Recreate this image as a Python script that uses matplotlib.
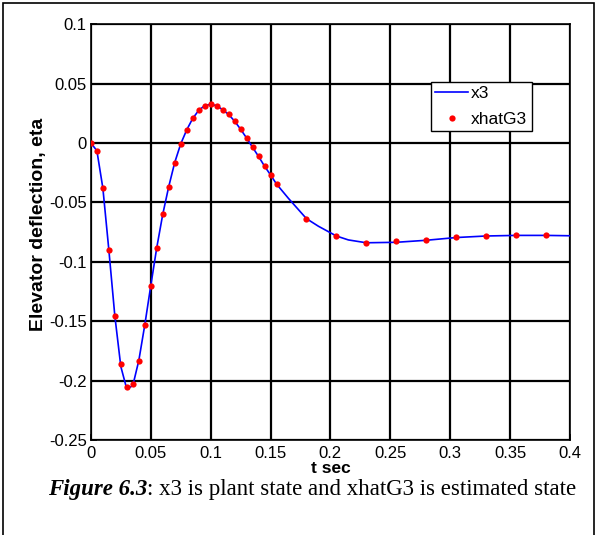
import numpy as np
import matplotlib.pyplot as plt
from matplotlib.patches import Rectangle

# estimated state samples (red dots)
t_est = [0.0, 0.005, 0.01, 0.015, 0.02, 0.025, 0.03, 0.035, 0.04, 0.045,
         0.05, 0.055, 0.06, 0.065, 0.07, 0.075, 0.08, 0.085, 0.09, 0.095,
         0.1, 0.105, 0.11, 0.115, 0.12, 0.125, 0.13, 0.135, 0.14, 0.145,
         0.15, 0.155, 0.18, 0.205, 0.23, 0.255, 0.28, 0.305, 0.33, 0.355, 0.38]
x_est = [0.0, -0.0065, -0.038, -0.090, -0.1455, -0.186, -0.205, -0.203, -0.183, -0.153,
         -0.120, -0.088, -0.060, -0.0367, -0.0164, -0.0008, 0.011, 0.0206, 0.0274, 0.0314,
         0.0325, 0.0314, 0.028, 0.024, 0.0184, 0.0116, 0.0042, -0.0036, -0.0113, -0.0195,
         -0.0268, -0.0345, -0.0636, -0.0782, -0.0839, -0.0828, -0.0814, -0.0791, -0.0782, -0.0777, -0.0777]

# plant state (blue line)
t_x3 = [0.0, 0.005, 0.01, 0.015, 0.02, 0.025, 0.03, 0.035, 0.04, 0.045,
        0.05, 0.055, 0.06, 0.065, 0.07, 0.075, 0.08, 0.085, 0.09, 0.095,
        0.1, 0.105, 0.11, 0.115, 0.12, 0.125, 0.13, 0.135, 0.14, 0.145,
        0.15, 0.155, 0.165, 0.18, 0.19, 0.205, 0.215, 0.23, 0.255, 0.28,
        0.305, 0.33, 0.355, 0.38, 0.4]
x3 = [0.0, -0.0065, -0.038, -0.090, -0.1455, -0.188, -0.207, -0.204, -0.183, -0.153,
      -0.120, -0.088, -0.060, -0.0367, -0.0164, -0.0008, 0.011, 0.0206, 0.0274, 0.0314,
      0.0325, 0.0314, 0.028, 0.024, 0.0184, 0.0116, 0.0042, -0.0036, -0.0113, -0.0195,
      -0.0268, -0.0345, -0.0466, -0.0636, -0.0700, -0.0782, -0.0815, -0.0839, -0.0835, -0.0818,
      -0.0795, -0.0782, -0.0777, -0.0777, -0.0780]

xtick_labels = ['0', '0.05', '0.1', '0.15', '0.2', '0.25', '0.3', '0.35', '0.4']
ytick_labels = ['-0.25', '-0.2', '-0.15', '-0.1', '-0.05', '0', '0.05', '0.1']

plt.rcParams['font.family'] = ['Liberation Sans', 'DejaVu Sans']

fig = plt.figure(figsize=(5.98, 5.35), dpi=100)
ax = fig.add_axes([0.152, 0.177, 0.801, 0.778])

ax.plot(t_x3, x3, color='blue', linewidth=1.2, label='x3', zorder=3)
ax.plot(t_est, x_est, 'o', color='red', markersize=4.5, markeredgewidth=0,
        label='xhatG3', zorder=4)

ax.set_xlim(0, 0.4)
ax.set_ylim(-0.25, 0.1)
ax.set_xticks(np.linspace(0, 0.4, 9))
ax.set_yticks(np.linspace(-0.25, 0.1, 8))
ax.set_xticklabels(xtick_labels)
ax.set_yticklabels(ytick_labels)
ax.tick_params(direction='in', labelsize=12, length=4, width=1.2, pad=3)
ax.tick_params(axis='x', pad=4)
ax.grid(True, color='black', linewidth=1.6, linestyle='-')
ax.set_axisbelow(True)
for s in ax.spines.values():
    s.set_linewidth(1.2)

ax.set_xlabel('t sec', fontsize=12.5, fontweight='bold', labelpad=0)
ax.set_ylabel('Elevator deflection, eta', fontsize=14, fontweight='bold')
ax.yaxis.set_label_coords(-0.092, 0.519)

leg = ax.legend(loc='upper left', bbox_to_anchor=(0.721, 0.847),
                bbox_transform=fig.transFigure, fontsize=12.5, fancybox=False,
                framealpha=1, edgecolor='black', handlelength=1.9, borderpad=0.25,
                labelspacing=0.6, handletextpad=0.15, borderaxespad=0, numpoints=1)
leg.get_frame().set_linewidth(1.0)

# caption: bold-italic lead followed by plain text
cap1 = fig.text(0.08, 0.085, 'Figure 6.3', fontsize=16.5, ha='left', va='center',
                family='Liberation Serif', fontweight='bold', fontstyle='italic')
fig.canvas.draw()
bb = cap1.get_window_extent()
x1 = bb.x1 / fig.bbox.width
fig.text(x1, 0.085, ': x3 is plant state and xhatG3 is estimated state', fontsize=16.5,
         ha='left', va='center', family='Liberation Serif')

fig.patches.append(Rectangle((0.005, -0.01), 0.989, 1.004, transform=fig.transFigure,
                             fill=False, edgecolor='black', linewidth=1.2))

fig.savefig('out.png', dpi=100)
